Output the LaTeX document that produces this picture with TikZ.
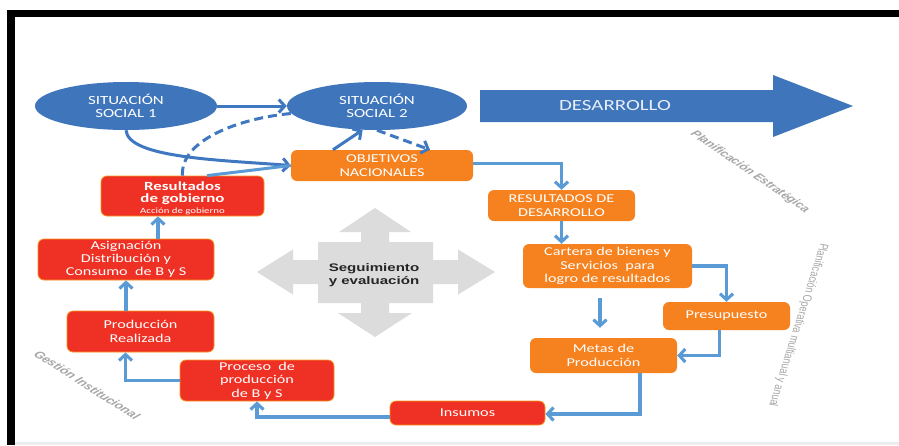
\documentclass[tikz,border=0pt]{standalone}
\usepackage{fontspec}
\setmainfont{Carlito}[FakeStretch=1.35]
\newfontfamily\arialw{Liberation Sans}[FakeStretch=1.37]
\newfontfamily\arialf{Liberation Sans}
\usetikzlibrary{arrows.meta,calc,shapes.geometric}
\definecolor{ellblue}{HTML}{3E75BB}
\definecolor{topblue}{HTML}{3F78C0}
\definecolor{flowblue}{HTML}{5B9BD5}
\definecolor{orangeC}{HTML}{F5821F}
\definecolor{redC}{HTML}{EE3124}
\definecolor{redB}{HTML}{F7941D}
\definecolor{crossgray}{HTML}{DCDCDC}
\definecolor{graytxt}{HTML}{A6A6A6}
\begin{document}
\begin{tikzpicture}[x=1pt,y=-1pt,
  ell/.style={ellipse, fill=ellblue, text=white, align=center, inner sep=0pt,
    font=\fontsize{12.5}{13.3}\selectfont},
  obox/.style={fill=orangeC, rounded corners=6pt, text=white, align=center, inner sep=0pt,
    font=\fontsize{12}{13.3}\selectfont},
  rbox/.style={obox, fill=redC, draw=redB, line width=0.8pt},
  flow/.style={draw=flowblue, line width=3.1pt, -{Straight Barb[length=6pt,width=13pt]}},
  topa/.style={draw=topblue, line width=3pt, -{Straight Barb[length=6pt,width=13pt]}},
  graylbl/.style={text=graytxt, inner sep=0pt}
]
\useasboundingbox (0,0) rectangle (899,445);
\fill[white] (0,0) rectangle (899,445);
% frame
\fill[black] (7,10) rectangle (899,17);
\fill[black] (7,10) rectangle (15,445);
\fill[black!7] (15,442) rectangle (899,445);

% cross
\fill[crossgray] (375,208) -- (411,232) -- (389,232) -- (389,242) -- (433,242) -- (433,260)
  -- (458,260) -- (458,249.5) -- (495,272) -- (458,294.5) -- (458,284) -- (433,284)
  -- (433,303) -- (389,303) -- (389,313) -- (412,313) -- (375,337) -- (338,313)
  -- (361,313) -- (361,303) -- (318,303) -- (318,284) -- (293,284) -- (293,294.5)
  -- (257,272) -- (293,249.5) -- (293,260) -- (318,260) -- (318,242) -- (361,242)
  -- (361,232) -- (339,232) -- cycle;
\node[align=center, inner sep=0pt, text=black!85, font=\arialw\bfseries\fontsize{11}{12.5}\selectfont] (seg) at (374,275) {Seguimiento\\ y evaluación};

% DESARROLLO arrow
\fill[ellblue] (480,90) -- (773,90) -- (773,75) -- (853,106) -- (773,137) -- (773,122) -- (480,122) -- cycle;
\node[text=white!88!ellblue, font=\fontsize{15.5}{16}\selectfont, inner sep=0pt] (des) at (615,106) {DESARROLLO};

% ellipses
\node[ell, minimum width=182pt, minimum height=48pt] (e1) at (126,106) {SITUACIÓN\\SOCIAL 1};
\node[ell, minimum width=180pt, minimum height=48pt] (e2) at (377,106) {SITUACIÓN\\SOCIAL 2};

% boxes
\node[obox, minimum width=182pt, minimum height=31pt] (obj) at (382,165.5) {OBJETIVOS\\NACIONALES};
\node[rbox, minimum width=163pt, minimum height=40pt] (rg) at (182.5,196) {};
\node[text=white, align=center, inner sep=0pt] (rgt) at ([yshift=-2.5pt]rg.center)
  {\fontsize{12.5}{12}\selectfont\bfseries Resultados\\\fontsize{12.5}{12}\selectfont\bfseries de gobierno\\[-1pt]\fontsize{8}{9}\selectfont Acción de gobierno};
\node[rbox, minimum width=176pt, minimum height=41pt] (asig) at (126,259.5) {Asignación\\Distribución y\\Consumo\ \ de B y S};
\node[rbox, minimum width=147pt, minimum height=41pt] (prod) at (140.5,331.5) {Producción\\Realizada};
\node[rbox, minimum width=154pt, minimum height=41pt] (proc) at (257,380.5) {Proceso\ \ de\\producción\\de B y S};
\node[rbox, minimum width=155pt, minimum height=24pt] (ins) at (467.5,413) {Insumos};
\node[obox, minimum width=147pt, minimum height=31pt] (rd) at (561.5,205.5) {RESULTADOS DE\\DESARROLLO};
\node[obox, minimum width=169pt, minimum height=44pt] (cart) at (607.5,266) {Cartera de bienes y\\Servicios\ \ para\\logro de resultados};
\node[obox, minimum width=127pt, minimum height=28pt] (pres) at (726.5,316) {Presupuesto};
\node[obox, minimum width=147pt, minimum height=35pt] (met) at (603.5,355.5) {Metas de\\Producción};

% top connectors
\draw[topa] (e1.east) -- (e2.west);
\draw[topa] (e1.south) .. controls (128,158) and (220,160) .. (obj.west);
\draw[draw=flowblue, line width=3pt] ([xshift=24.5pt]rg.north) -- (obj.west);
\draw[draw=topblue, line width=3pt, dash pattern=on 9pt off 5pt] (rg.north) .. controls (180,140) and (240,118) .. (e2.185);
\draw[topa, dash pattern=on 9pt off 5pt] (e2.south) -- ([xshift=48pt]obj.north);
\draw[topa] ([xshift=-49pt]obj.north) -- (e2.239);

% flow connectors
\draw[flow] ([yshift=-4pt]ins.west) -| (proc.south);
\draw[flow] (proc.west) -| ([xshift=-15pt]prod.south);
\draw[flow] (prod.north -| asig.south) -- (asig.south);
\draw[flow] ([xshift=32pt]asig.north) -- ([xshift=32pt]asig.north |- rg.south);
\draw[flow] ([yshift=2pt]obj.east) -| (rd.north);
\draw[flow] (rd.south) -- (rd.south |- cart.north);
\draw[flow] (cart.east) -| (pres.north);
\draw[flow] ($(cart.south)+(-7.5,10)$) -- ($(met.north)+(-3.5,-10)$);
\draw[flow] ([xshift=-7pt]pres.south) |- (met.east);
\draw[flow] ([xshift=36.5pt]met.south) |- ([yshift=-1pt]ins.east);

% gray labels (horizontally stretched like the rest of the picture)
\begin{scope}[xscale=1.37, transform shape]
\node[graylbl, rotate=-43, font=\arialf\bfseries\itshape\fontsize{9.7}{12}\selectfont] (pe) at (547.4,172) {Planificación Estratégica};
\node[graylbl, rotate=-103, font=\arialf\fontsize{9}{11}\selectfont] (po) at (582.5,325) {Planificación Operativa multianual y anual};
\node[graylbl, rotate=-41.3, font=\arialf\bfseries\itshape\fontsize{10}{12}\selectfont] (gi) at (63.5,385) {Gestión Institucional};
\end{scope}
\end{tikzpicture}
\end{document}
